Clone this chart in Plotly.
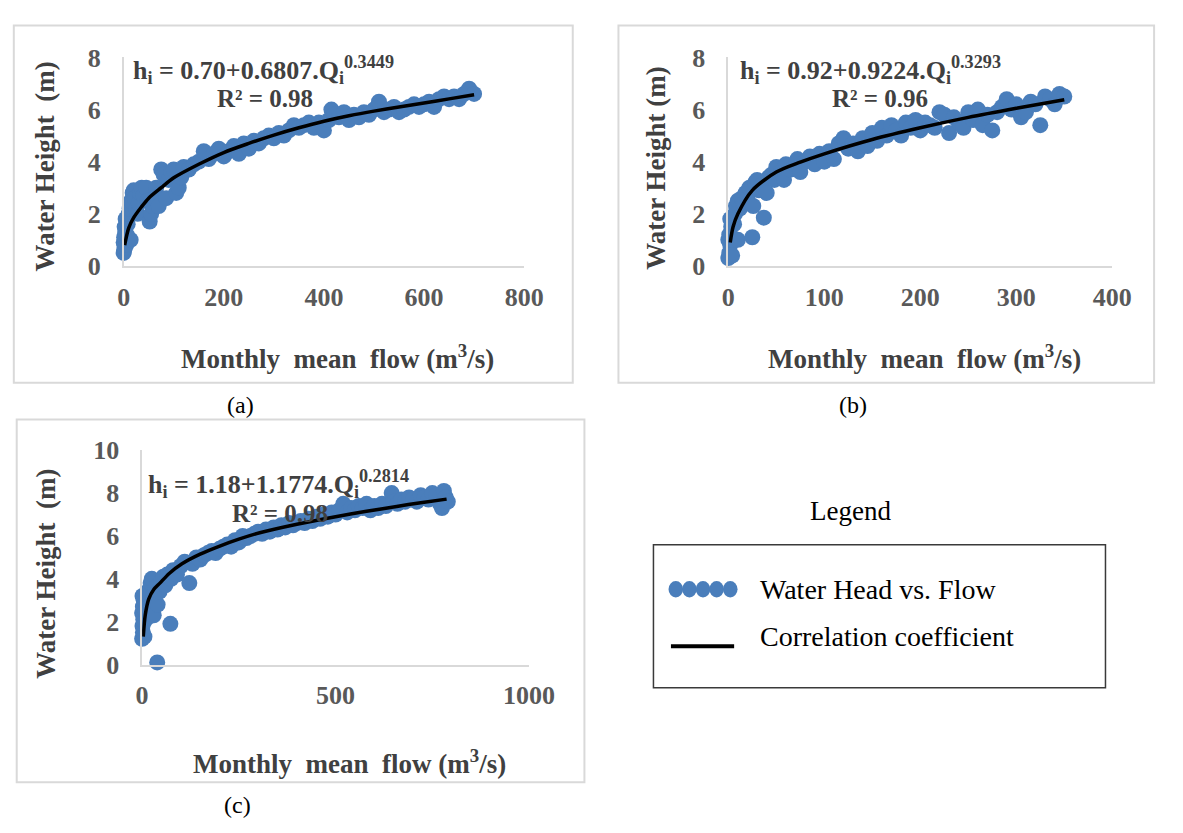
import plotly.graph_objects as go

W, H = 1183, 833

# ---------------- data ----------------
# Panel (a)
a_flow = [0, 1, 2, 0, 1, 3, 2, 4, 5, 6, 8, 10, 12, 14, 15, 18, 20, 22, 25, 28, 30, 33, 36, 40, 45, 48,
          52, 55, 58, 62, 65, 70, 75, 80, 85, 90, 95, 100, 105, 110, 115, 120, 130, 140, 150, 160, 170,
          180, 190, 200, 210, 220, 230, 240, 250, 260, 270, 280, 290, 300, 310, 320, 330, 340, 350, 360,
          370, 380, 390, 400, 410, 415, 420, 430, 440, 450, 460, 470, 480, 490, 500, 510, 520, 530, 540,
          550, 560, 570, 580, 590, 600, 610, 620, 630, 640, 650, 660, 670, 680, 690, 700]
a_head = [0.5, 0.6, 0.7, 0.9, 1.1, 1.3, 1.5, 1.8, 0.8, 1.2, 1.6, 2.0, 2.2, 1.0, 2.5, 2.8, 2.9, 2.6, 2.2, 2.0,
          2.4, 2.8, 3.0, 2.7, 3.0, 2.5, 1.7, 2.0, 2.3, 2.6, 3.0, 2.3, 3.7, 3.5, 2.6, 3.3, 3.6, 3.7, 2.8, 3.0,
          3.4, 3.8, 3.7, 3.9, 4.0, 4.4, 4.1, 4.3, 4.5, 4.2, 4.4, 4.6, 4.3, 4.7, 4.5, 4.8, 4.7, 4.9, 5.0, 4.9,
          5.1, 5.0, 5.2, 5.4, 5.3, 5.4, 5.5, 5.3, 5.5, 5.2, 5.6, 6.0, 5.8, 5.7, 5.9, 5.6, 5.8, 5.7, 5.9, 5.8,
          6.0, 6.3, 5.9, 6.0, 6.1, 5.9, 6.0, 6.1, 6.2, 6.1, 6.2, 6.3, 6.1, 6.4, 6.5, 6.4, 6.5, 6.4, 6.6, 6.8,
          6.6]
a_fit_flow = [2, 10, 20, 35, 50, 75, 100, 150, 200, 250, 300, 350, 400, 450, 500, 550, 600, 650, 700]
a_fit_head = [0.8, 1.45, 1.85, 2.25, 2.6, 3.0, 3.38, 3.9, 4.35, 4.7, 5.02, 5.3, 5.55, 5.76, 5.94, 6.1, 6.25,
              6.41, 6.57]

# Panel (b)
b_flow = [0, 1, 2, 0, 1, 3, 2, 4, 5, 6, 7, 8, 10, 10, 12, 14, 16, 18, 20, 22, 25, 26, 28, 30, 32, 35, 37,
          40, 42, 45, 48, 50, 55, 58, 60, 65, 70, 72, 75, 80, 85, 90, 95, 100, 105, 110, 115, 120, 125,
          130, 135, 140, 145, 150, 155, 160, 165, 170, 175, 180, 185, 190, 195, 200, 205, 210, 215, 220,
          225, 230, 235, 240, 245, 250, 255, 260, 265, 270, 275, 280, 285, 290, 295, 300, 305, 310, 315,
          320, 325, 330, 335, 340, 345, 350]
b_head = [0.3, 0.5, 0.8, 1.0, 1.2, 1.5, 1.8, 0.4, 1.0, 1.6, 2.0, 2.3, 1.0, 2.5, 2.2, 2.6, 2.4, 2.8, 2.6, 3.0,
          1.1, 2.3, 3.2, 3.3, 2.9, 3.1, 1.85, 2.8, 3.4, 3.5, 3.3, 3.8, 3.6, 3.3, 3.9, 3.7, 3.9, 4.1, 3.6, 4.0,
          4.2, 3.9, 4.3, 4.0, 4.4, 4.1, 4.7, 4.9, 4.5, 4.7, 4.4, 4.9, 4.6, 5.1, 4.8, 5.3, 5.0, 5.4, 5.2, 5.0,
          5.5, 5.3, 5.6, 5.2, 5.5, 5.4, 5.3, 5.9, 5.8, 5.1, 5.7, 5.5, 5.3, 5.9, 5.6, 6.0, 5.4, 5.8, 5.2, 5.9,
          6.1, 6.4, 6.0, 6.2, 5.7, 5.9, 6.3, 6.2, 5.4, 6.5, 6.4, 6.2, 6.6, 6.5]
b_fit_flow = [2, 5, 10, 25, 50, 75, 100, 150, 200, 250, 300, 350]
b_fit_head = [0.9, 1.5, 2.0, 2.9, 3.6, 3.98, 4.3, 4.85, 5.3, 5.7, 6.05, 6.38]

# Panel (c)
c_flow = [0, 2, 1, 3, 0, 2, 4, 1, 5, 6, 8, 10, 12, 15, 18, 20, 22, 25, 28, 30, 35, 39, 40, 45, 50, 55, 60,
          65, 73, 75, 80, 90, 100, 110, 122, 130, 140, 150, 160, 170, 180, 190, 200, 210, 220, 230, 240,
          250, 260, 270, 280, 290, 300, 310, 320, 330, 340, 350, 360, 370, 380, 390, 400, 410, 420, 430,
          440, 450, 460, 470, 480, 490, 500, 510, 520, 530, 540, 550, 560, 570, 580, 590, 600, 610, 620,
          630, 645, 650, 660, 670, 680, 690, 700, 710, 720, 730, 740, 750, 760, 770, 775, 780, 785, 790]
c_head = [1.2, 1.5, 1.8, 2.1, 2.4, 2.7, 3.0, 3.2, 2.0, 1.3, 2.5, 2.9, 3.3, 2.2, 3.5, 2.6, 3.8, 4.0, 3.2, 2.3,
          3.6, 0.1, 2.8, 3.4, 3.9, 4.1, 3.7, 4.2, 1.9, 4.0, 4.4, 4.2, 4.6, 4.8, 3.8, 4.7, 5.0, 4.9, 5.1, 5.2,
          5.3, 5.2, 5.4, 5.5, 5.6, 5.5, 5.8, 5.7, 6.0, 5.9, 6.0, 6.1, 6.2, 6.1, 6.3, 6.2, 6.4, 6.3, 6.5, 6.4,
          6.6, 6.5, 6.6, 6.7, 6.6, 6.8, 6.7, 6.9, 6.8, 7.0, 6.9, 7.1, 7.0, 7.2, 7.5, 7.1, 7.3, 7.2, 7.4, 7.3,
          7.5, 7.2, 7.4, 7.3, 7.5, 7.4, 8.0, 7.6, 7.5, 7.7, 7.6, 7.8, 7.7, 7.6, 7.9, 7.8, 7.7, 8.0, 7.9, 7.5,
          7.3, 8.1, 7.8, 7.6]
c_fit_flow = [3, 8, 17, 30, 46, 70, 103, 150, 204, 250, 304, 400, 500, 580, 658, 720, 787]
c_fit_head = [1.3, 2.3, 3.05, 3.5, 3.8, 4.25, 4.7, 5.15, 5.55, 5.85, 6.15, 6.55, 6.9, 7.15, 7.38, 7.55, 7.72]

equations = ["h<sub>i</sub> = 0.70+0.6807.Q<sub>i</sub><sup>0.3449</sup>",
             "h<sub>i</sub> = 0.92+0.9224.Q<sub>i</sub><sup>0.3293</sup>",
             "h<sub>i</sub> = 1.18+1.1774.Q<sub>i</sub><sup>0.2814</sup>"]
r2_labels = ["R² = 0.98", "R² = 0.96", "R² = 0.98"]
panel_labels = ["(a)", "(b)", "(c)"]
x_ticks = [[0, 200, 400, 600, 800], [0, 100, 200, 300, 400], [0, 500, 1000]]
y_ticks = [[0, 2, 4, 6, 8], [0, 2, 4, 6, 8], [0, 2, 4, 6, 8, 10]]
x_title = "Monthly  mean  flow (m<sup>3</sup>/s)"
y_titles = ["Water Height  (m)", "Water Height (m)", "Water Height  (m)"]
legend_items = ["Water Head vs. Flow", "Correlation coefficient"]

# ---------------- layout helpers ----------------
def PX(p):
    return p / W

def PY(p):
    return 1 - p / H

SERIF = "Liberation Serif, Times New Roman, serif"
BLUE = "#4a7ebb"
GRAY_LINE = "#d9d9d9"
TICK_COL = "#595959"
TITLE_COL = "#404040"

# plot areas in pixels: (left, right, top, bottom)
areas = [(120, 532, 45, 261), (742, 1137, 45, 261), (139, 537, 452, 674)]
frames = [(7, 12, 582, 382), (629, 12, 1180, 382), (10, 420, 594, 796)]

fig = go.Figure()
series = [(a_flow, a_head, a_fit_flow, a_fit_head),
          (b_flow, b_head, b_fit_flow, b_fit_head),
          (c_flow, c_head, c_fit_flow, c_fit_head)]

for i, (fx, fy, lx, ly) in enumerate(series):
    ax = "" if i == 0 else str(i + 1)
    fig.add_trace(go.Scatter(x=fx, y=fy, mode="markers", xaxis="x" + ax, yaxis="y" + ax,
                             marker=dict(color=BLUE, size=16, line=dict(width=0)),
                             cliponaxis=False, showlegend=False))
    fig.add_trace(go.Scatter(x=lx, y=ly, mode="lines", xaxis="x" + ax, yaxis="y" + ax,
                             line=dict(color="black", width=3.5, shape="spline", smoothing=0.8),
                             cliponaxis=False, showlegend=False))

layout = dict(autosize=True, margin=dict(l=0, r=0, t=0, b=0),
              paper_bgcolor="white", plot_bgcolor="white", showlegend=False)

xranges = [[0, 800], [0, 400], [0, 1000]]
yranges = [[0, 8], [0, 8], [0, 10]]
for i, (l, r, t, b) in enumerate(areas):
    ax = "" if i == 0 else str(i + 1)
    layout["xaxis" + ax] = dict(domain=[PX(l), PX(r)], range=xranges[i], anchor="y" + ax,
                                tickvals=x_ticks[i], showline=True, linecolor=GRAY_LINE, linewidth=1.5,
                                showgrid=False, zeroline=False, ticks="", ticklabelstandoff=7,
                                tickfont=dict(family=SERIF, size=26, color=TICK_COL, weight="bold"))
    layout["yaxis" + ax] = dict(domain=[PY(b), PY(t)], range=yranges[i], anchor="x" + ax,
                                tickvals=y_ticks[i], showline=True, linecolor=GRAY_LINE, linewidth=1.5,
                                showgrid=False, zeroline=False, ticks="", ticklabelstandoff=16,
                                tickfont=dict(family=SERIF, size=26, color=TICK_COL, weight="bold"))

shapes = []
for (x0, y0, x1, y1) in frames:
    shapes.append(dict(type="rect", xref="paper", yref="paper", x0=PX(x0), x1=PX(x1),
                       y0=PY(y1), y1=PY(y0), line=dict(color=GRAY_LINE, width=2)))

annotations = []
eq_pos = [(128, 58), (752, 58), (143, 487)]
r2_pos = [(265, 88), (898, 88), (281, 517)]
xt_pos = [(340, 355), (944, 355), (352, 775)]
yt_pos = [(40, 158), (668, 160), (40, 580)]
pl_pos = [(240, 405), (870, 405), (237, 820)]
for i in range(3):
    annotations.append(dict(text=equations[i], xref="paper", yref="paper", x=PX(eq_pos[i][0]),
                            y=PY(eq_pos[i][1]), xanchor="left", yanchor="middle", showarrow=False,
                            font=dict(family=SERIF, size=26, color=TITLE_COL, weight="bold")))
    annotations.append(dict(text=r2_labels[i], xref="paper", yref="paper", x=PX(r2_pos[i][0]),
                            y=PY(r2_pos[i][1]), xanchor="center", yanchor="middle", showarrow=False,
                            font=dict(family=SERIF, size=25, color=TITLE_COL, weight="bold")))
    annotations.append(dict(text=x_title, xref="paper", yref="paper", x=PX(xt_pos[i][0]),
                            y=PY(xt_pos[i][1]), xanchor="center", yanchor="middle", showarrow=False,
                            font=dict(family=SERIF, size=27, color=TITLE_COL, weight="bold")))
    annotations.append(dict(text=y_titles[i], xref="paper", yref="paper", x=PX(yt_pos[i][0]),
                            y=PY(yt_pos[i][1]), xanchor="center", yanchor="middle", showarrow=False,
                            textangle=-90,
                            font=dict(family=SERIF, size=27, color=TITLE_COL, weight="bold")))
    annotations.append(dict(text=panel_labels[i], xref="paper", yref="paper", x=PX(pl_pos[i][0]),
                            y=PY(pl_pos[i][1]), xanchor="center", yanchor="middle", showarrow=False,
                            font=dict(family=SERIF, size=24, color="black")))

# legend block
annotations.append(dict(text="Legend", xref="paper", yref="paper", x=PX(868), y=PY(515),
                        xanchor="center", yanchor="middle", showarrow=False,
                        font=dict(family=SERIF, size=27, color="black")))
shapes.append(dict(type="rect", xref="paper", yref="paper", x0=PX(665), x1=PX(1130),
                   y0=PY(698), y1=PY(550), line=dict(color="#3a3a3a", width=1.5)))
for k in range(5):
    cx = 688 + k * 14
    shapes.append(dict(type="circle", xref="paper", yref="paper", x0=PX(cx - 7.5), x1=PX(cx + 7.5),
                       y0=PY(596 + 8.5), y1=PY(596 - 8.5), fillcolor=BLUE, line=dict(width=0)))
shapes.append(dict(type="line", xref="paper", yref="paper", x0=PX(683), x1=PX(748),
                   y0=PY(655), y1=PY(655), line=dict(color="black", width=4)))
annotations.append(dict(text=legend_items[0], xref="paper", yref="paper", x=PX(773), y=PY(596),
                        xanchor="left", yanchor="middle", showarrow=False,
                        font=dict(family=SERIF, size=28, color="black")))
annotations.append(dict(text=legend_items[1], xref="paper", yref="paper", x=PX(773), y=PY(645),
                        xanchor="left", yanchor="middle", showarrow=False,
                        font=dict(family=SERIF, size=28, color="black")))

layout["shapes"] = shapes
layout["annotations"] = annotations
fig.update_layout(**layout)

fit_js = ("document.documentElement.style.margin='0';document.body.style.margin='0';"
          "document.body.style.overflow='hidden';"
          "var gd=document.getElementById('{plot_id}');"
          "Plotly.Plots.resize(gd);")
fig.write_html("out.html", default_width="100vw", default_height="100vh",
               config={"displayModeBar": False, "responsive": True}, post_script=fit_js)
